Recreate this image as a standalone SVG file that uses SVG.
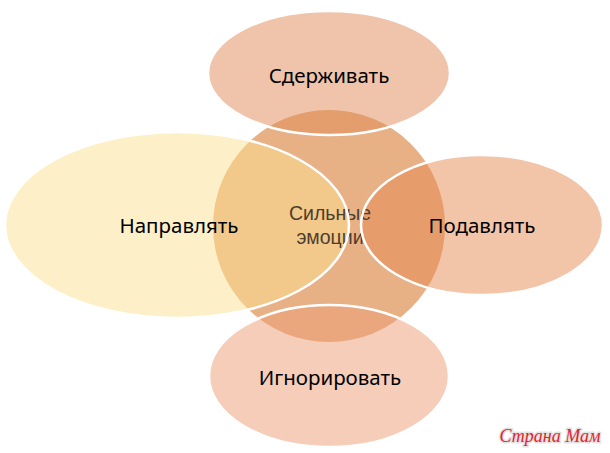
<svg xmlns="http://www.w3.org/2000/svg" width="610" height="453" viewBox="0 0 610 453">
<style>
.lbl{font-family:"Noto Sans","Open Sans","Liberation Sans",sans-serif;font-size:20.5px;fill:#000;text-anchor:middle}
.clbl{font-family:"Liberation Sans","Noto Sans",sans-serif;font-size:19.5px;fill:#4e3d2c;text-anchor:middle}
.sat{fill-opacity:0.5}
.ol{fill:none;stroke:#fff;stroke-width:2.5}
.wm{font-family:"Liberation Serif","DejaVu Serif",serif;font-style:italic;font-size:18px;fill:#e3232c;text-anchor:middle;stroke:#e4e4e4;stroke-width:3;paint-order:stroke;stroke-linejoin:round}
</style>
<rect width="610" height="453" fill="#fff"/>
<g id="center">
<circle cx="329" cy="226" r="116" fill="#E8B085"/>
</g>
<g id="top">
<ellipse class="sat" cx="329" cy="73" rx="121" ry="62" fill="#DF8A55"/>
</g>
<g id="left">
<ellipse class="sat" cx="177" cy="225" rx="172" ry="93" fill="#FBE191"/>
</g>
<g id="right">
<ellipse class="sat" cx="482" cy="225" rx="121" ry="70" fill="#E58951"/>
</g>
<g id="bottom">
<ellipse class="sat" cx="329" cy="376" rx="120" ry="71" fill="#EB9B73"/>
</g>
<g id="center-label">
<text class="clbl" x="330" y="220">Сильные</text>
<text class="clbl" x="330" y="243.5">эмоции</text>
</g>
<g id="outlines">
<ellipse class="ol" cx="329" cy="73" rx="121" ry="62"/>
<ellipse class="ol" cx="177" cy="225" rx="172" ry="93"/>
<ellipse class="ol" cx="482" cy="225" rx="121" ry="70"/>
<ellipse class="ol" cx="329" cy="376" rx="120" ry="71"/>
</g>
<g id="labels">
<text class="lbl" x="329" y="83">Сдерживать</text>
<text class="lbl" x="179" y="233">Направлять</text>
<text class="lbl" x="482" y="233">Подавлять</text>
<text class="lbl" x="330" y="385">Игнорировать</text>
</g>
<text class="wm" x="550" y="442">Страна Мам</text>
</svg>
